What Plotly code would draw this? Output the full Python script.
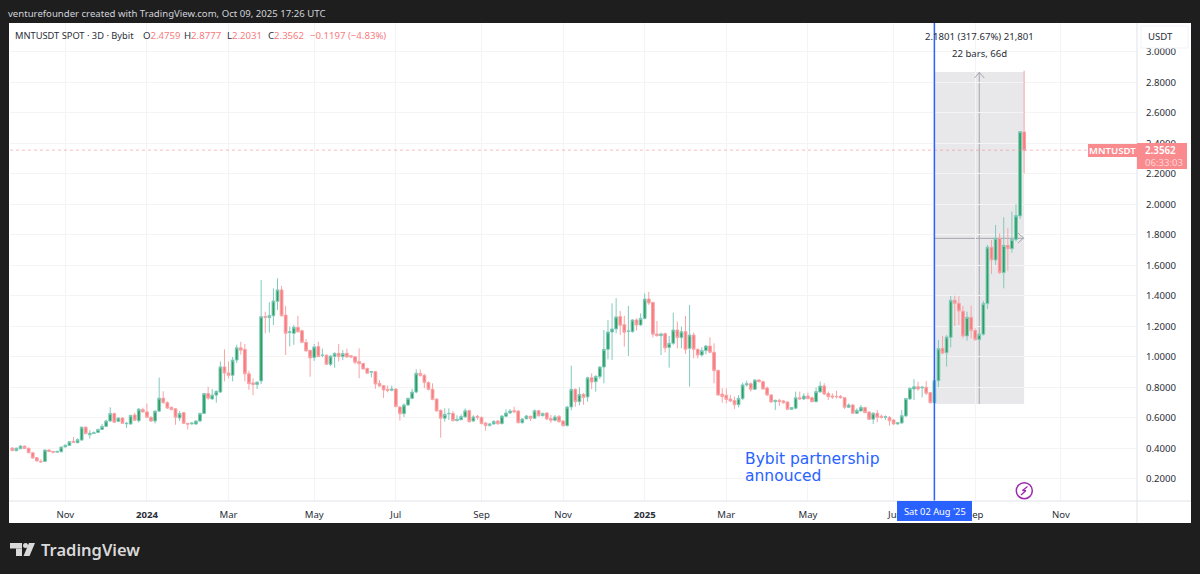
import pandas as pd
import plotly.graph_objects as go

# 3D bars, MNTUSDT spot
first_bar = "2023-09-24"

opens = [
    .403, .385, .398, .416, .402, .372, .340, .316, .315, .390,
    .381, .376, .378, .410, .420, .447, .437, .455, .540, .490,
    .498, .505, .525, .545, .580, .630, .578, .600, .562, .560,
    .620, .582, .655, .640, .605, .580, .645, .730, .700, .670,
    .660, .600, .635, .565, .562, .560, .580, .630, .760, .725,
    .750, .770, .935, .895, .880, .980, 1.06, 1.05, .890, .830,
    .820, .843, 1.265, 1.258, 1.27, 1.365, 1.44, 1.275, 1.16, 1.155,
    1.195, 1.172, 1.096, 1.044, .996, 1.068, 1.01, 1.012, .952, 1.004,
    1.024, 1.002, 1.024, 1.008, 1.002, .97, .958, .925, .90, .904,
    .827, .812, .788, .782, .79, .672, .628, .685, .729, .77,
    .893, .88, .832, .788, .724, .650, .598, .627, .63, .583,
    .589, .607, .648, .58, .611, .604, .567, .55, .561, .58,
    .563, .611, .633, .648, .646, .569, .595, .611, .598, .648,
    .615, .633, .596, .585, .609, .58, .55, .672, .788, .707,
    .755, .738, .864, .838, .871, .934, 1.05, 1.164, 1.184, 1.265,
    1.212, 1.168, 1.166, 1.243, 1.21, 1.253, 1.38, 1.358, 1.151, 1.14,
    1.153, 1.063, 1.09, 1.177, 1.127, 1.166, 1.057, 1.144, 1.05, 1.013,
    1.042, 1.072, 1.031, .912, .757, .749, .725, .714, .687, .727,
    .817, .825, .788, .849, .838, .797, .751, .707, .716, .712,
    .705, .657, .664, .733, .725, .744, .733, .707, .771, .81,
    .76, .744, .742, .742, .733, .67, .685, .631, .646, .668,
    .639, .592, .631, .612, .604, .604, .587, .561, .567, .613,
    .725, .79, .805, .797, .801, .766, .70, .845, 1.057, 1.028,
    1.129, 1.372, 1.352, 1.3, 1.138, 1.26, 1.173, 1.114, 1.149, 1.35,
    1.72, 1.636, 1.778, 1.553, 1.732, 1.71, 1.77, 1.925, 2.4759,
]
highs = [
    .408, .406, .424, .418, .404, .375, .340, .330, .392, .395,
    .383, .384, .412, .425, .447, .475, .468, .543, .545, .520,
    .512, .530, .560, .590, .670, .635, .605, .605, .575, .620,
    .635, .665, .667, .695, .610, .650, .865, .775, .710, .675,
    .665, .645, .640, .567, .570, .585, .635, .765, .805, .790,
    .780, .970, 1.05, .970, 1.0, 1.08, 1.10, 1.085, .910, .860,
    .840, 1.505, 1.297, 1.359, 1.45, 1.516, 1.466, 1.335, 1.2, 1.21,
    1.27, 1.18, 1.118, 1.046, 1.085, 1.10, 1.055, 1.017, 1.01, 1.03,
    1.085, 1.045, 1.055, 1.013, 1.006, 1.057, .961, .93, .908, .908,
    .849, .815, .814, .812, .795, .679, .696, .733, .792, .919,
    .919, .889, .84, .827, .729, .657, .663, .663, .646, .618,
    .624, .663, .655, .618, .62, .609, .572, .569, .585, .587,
    .618, .657, .659, .674, .65, .6, .62, .615, .655, .652,
    .635, .637, .62, .62, .62, .585, .679, .943, .794, .801,
    .764, .871, .893, .88, .941, 1.177, 1.242, 1.352, 1.385, 1.302,
    1.27, 1.335, 1.247, 1.253, 1.286, 1.417, 1.427, 1.36, 1.236, 1.16,
    1.16, 1.138, 1.29, 1.232, 1.199, 1.269, 1.341, 1.16, 1.057, 1.064,
    1.079, 1.129, 1.09, .917, .795, .795, .751, .74, .751, .832,
    .845, .834, .853, .855, .845, .806, .757, .72, .725, .718,
    .709, .672, .773, .773, .762, .766, .74, .801, .838, .828,
    .773, .762, .779, .751, .736, .696, .692, .663, .685, .674,
    .644, .637, .652, .622, .617, .613, .591, .574, .652, .731,
    .799, .854, .838, .808, .843, .77, .882, 1.112, 1.138, 1.144,
    1.40, 1.402, 1.398, 1.335, 1.297, 1.337, 1.188, 1.166, 1.367, 1.735,
    1.767, 1.866, 1.811, 1.916, 1.844, 1.953, 2.003, 2.482, 2.8777,
]
lows = [
    .383, .383, .396, .398, .370, .335, .316, .305, .313, .378,
    .368, .373, .376, .408, .418, .437, .435, .452, .495, .465,
    .495, .503, .522, .540, .575, .570, .572, .563, .535, .558,
    .580, .570, .635, .600, .575, .565, .640, .695, .660, .650,
    .555, .580, .562, .525, .555, .556, .575, .625, .720, .720,
    .700, .765, .840, .860, .840, .960, 1.015, .840, .785, .750,
    .790, .823, 1.155, 1.16, 1.21, 1.308, 1.265, 1.013, 1.07, 1.08,
    1.16, 1.09, 1.035, .871, .974, 1.0, .998, .948, .94, .93,
    .97, .98, .995, .996, .952, .86, .919, .889, .867, .792,
    .805, .731, .768, .775, .67, .583, .606, .681, .722, .762,
    .871, .795, .781, .716, .642, .471, .576, .587, .576, .578,
    .583, .602, .569, .576, .587, .558, .517, .545, .556, .554,
    .558, .604, .626, .631, .565, .563, .591, .58, .594, .609,
    .611, .587, .569, .578, .569, .543, .543, .65, .674, .683,
    .687, .707, .788, .773, .856, .827, .985, .98, 1.155, 1.144,
    1.068, 1.007, 1.159, 1.173, 1.205, 1.247, 1.341, 1.129, 1.133, 1.013,
    1.03, .93, 1.08, 1.057, 1.057, 1.02, .805, .991, .991, 1.002,
    1.017, 1.024, .827, .744, .70, .696, .705, .659, .67, .718,
    .806, .773, .784, .834, .786, .744, .70, .652, .679, .694,
    .652, .652, .657, .72, .718, .722, .703, .703, .766, .751,
    .718, .725, .727, .727, .659, .665, .626, .626, .641, .631,
    .587, .561, .572, .596, .587, .55, .554, .556, .563, .609,
    .718, .718, .779, .735, .751, .696, .692, .801, 1.02, .937,
    1.063, 1.203, 1.21, 1.122, 1.107, 1.122, 1.107, 1.109, 1.14, 1.315,
    1.544, 1.603, 1.544, 1.45, 1.566, 1.684, 1.757, 1.905, 2.2031,
]
closes = [
    .386, .402, .416, .400, .372, .337, .318, .313, .390, .380,
    .376, .381, .410, .422, .445, .440, .458, .540, .497, .500,
    .503, .525, .545, .580, .630, .572, .600, .565, .565, .617,
    .585, .658, .640, .605, .580, .645, .730, .700, .665, .655,
    .605, .630, .565, .560, .567, .580, .630, .760, .730, .750,
    .775, .935, .895, .880, .980, 1.06, 1.045, .890, .825, .820,
    .835, 1.265, 1.26, 1.272, 1.367, 1.44, 1.27, 1.155, 1.165, 1.195,
    1.165, 1.096, 1.04, .994, 1.066, 1.002, 1.012, .952, 1.006, 1.024,
    1.002, 1.022, 1.0, 1.0, .965, .956, .921, .893, .905, .823,
    .81, .784, .78, .79, .675, .628, .685, .729, .77, .893,
    .878, .832, .788, .722, .646, .598, .624, .63, .583, .591,
    .609, .648, .576, .607, .604, .563, .55, .561, .578, .563,
    .613, .633, .646, .641, .569, .593, .613, .598, .648, .615,
    .63, .594, .585, .607, .576, .55, .672, .788, .707, .755,
    .735, .864, .836, .873, .934, 1.05, 1.164, 1.184, 1.263, 1.208,
    1.162, 1.17, 1.243, 1.21, 1.253, 1.38, 1.354, 1.149, 1.14, 1.151,
    1.059, 1.09, 1.177, 1.127, 1.166, 1.05, 1.144, 1.05, 1.013, 1.042,
    1.072, 1.031, .91, .751, .74, .722, .711, .687, .729, .817,
    .825, .788, .849, .838, .79, .751, .705, .716, .707, .70,
    .657, .668, .733, .725, .744, .727, .707, .773, .81, .757,
    .74, .738, .74, .733, .67, .685, .631, .65, .67, .635,
    .591, .631, .604, .604, .608, .582, .561, .569, .615, .727,
    .795, .805, .79, .802, .762, .70, .845, 1.055, 1.026, 1.131,
    1.372, 1.352, 1.302, 1.138, 1.26, 1.173, 1.114, 1.149, 1.35, 1.72,
    1.636, 1.778, 1.553, 1.732, 1.71, 1.77, 1.927, 2.478, 2.3562,
]

tick_dates = ["2023-11-02", "2024-01-01", "2024-03-01", "2024-05-03", "2024-07-02", "2024-09-03", "2024-11-02",
              "2025-01-01", "2025-03-02", "2025-05-01", "2025-07-03", "2025-09-01", "2025-11-03"]
tick_labels = ["Nov", "<b>2024</b>", "Mar", "May", "Jul", "Sep", "Nov", "<b>2025</b>", "Mar", "May", "Jul", "Sep", "Nov"]
price_ticks = [.2, .4, .6, .8, 1.0, 1.2, 1.4, 1.6, 1.8, 2.0, 2.2, 2.4, 2.6, 2.8, 3.0]

event_date = "2025-08-02"
last_date = "2025-10-07"
measure_low = 0.692
measure_high = 2.868
measure_mid_date = "2025-09-04"
measure_mid_price = 1.778
last_price = 2.3562

DARK = "#1e1e1e"
BLUE = "#2962ff"
GRID = "#f4f4f5"
SEP = "#e0e3eb"
TEXT = "#2a2e39"
RED = "#f77c80"
GRAY = "#a3a6ad"
FONT = "Noto Sans"

dates = pd.date_range(first_bar, periods=len(opens), freq="3D")


# page pixels to paper coordinates (paper is the plot area, x 10-1137, y 23-501)
def px(x):
    return (x - 10) / 1127


def py(y):
    return (501 - y) / 478


def rect(x0, y0, x1, y1, fill, layer="above", line=None):
    return dict(type="rect", xref="paper", yref="paper", x0=px(x0), x1=px(x1), y0=py(y0), y1=py(y1),
                fillcolor=fill, layer=layer, line=dict(width=1 if line else 0, color=line or fill))


def stroke(x0, y0, x1, y1, color=GRAY, width=1):
    return dict(type="line", xref="paper", yref="paper", x0=px(x0), x1=px(x1), y0=py(y0), y1=py(y1),
                layer="above", line=dict(color=color, width=width))


def label(x, y, text, size=9.6, color=TEXT, anchor="left", family=FONT, **kw):
    return dict(xref="paper", yref="paper", x=px(x), y=py(y), text=text, showarrow=False,
                xanchor=anchor, yanchor="middle", borderpad=0, borderwidth=0,
                font=dict(family=family, size=size, color=color, **kw))


fig = go.Figure(go.Candlestick(
    x=dates, open=opens, high=highs, low=lows, close=closes,
    increasing=dict(line=dict(color="#7fcabc", width=1), fillcolor="#2e9f5e"),
    decreasing=dict(line=dict(color="#f9a3a6", width=1), fillcolor="#f77c80"),
    whiskerwidth=0, hoverinfo="skip",
))

shapes = [
    # white chart card on the dark page
    rect(9, 23, 1191, 523, "white", layer="below"),
    # measuring tool
    dict(type="rect", xref="x", yref="y", x0=event_date, x1=last_date, y0=measure_low, y1=measure_high,
         fillcolor="#e8e8ea", line=dict(width=0), layer="below"),
    dict(type="line", xref="x", yref="y", x0=measure_mid_date, x1=measure_mid_date, y0=measure_low, y1=measure_high,
         line=dict(color=GRAY, width=1), layer="below"),
    dict(type="line", xref="x", yref="y", x0=event_date, x1=last_date, y0=measure_mid_price, y1=measure_mid_price,
         line=dict(color=GRAY, width=1), layer="below"),
    # last price line
    dict(type="line", xref="paper", yref="y", x0=0, x1=1, y0=last_price, y1=last_price,
         line=dict(color=RED, width=1, dash="dot"), layer="above", opacity=0.5),
    # event line
    dict(type="line", xref="x", yref="paper", x0=event_date, x1=event_date, y0=0, y1=1,
         line=dict(color=BLUE, width=1.5), layer="above"),
    # arrow heads
    stroke(974.5, 78, 979.4, 72.5), stroke(984.3, 78, 979.4, 72.5),
    stroke(1018, 233, 1023.5, 238), stroke(1018, 243, 1023.5, 238),
    # axis separators
    stroke(1137, 23, 1137, 523, SEP), stroke(9, 501, 1191, 501, SEP),
    # price axis boxes
    rect(1141, 26, 1188, 48, "white", line="#f0f3fa"),
    rect(1088, 144, 1137, 157, "#f98a8e"),
    rect(1137, 143, 1187, 169, "#f98a8e"),
    # crosshair date box
    rect(897, 501, 972, 521, BLUE),
    # bolt marker
    dict(type="circle", xref="paper", yref="paper", x0=px(1016.3), x1=px(1032.3), y0=py(498.7), y1=py(482.7),
         line=dict(color="#9c27b0", width=1.5), layer="above"),
    stroke(1027.5, 486.5, 1022.5, 490.5, "#9c27b0", 1.3), stroke(1022.5, 490.5, 1026, 490.5, "#9c27b0", 1.3),
    stroke(1026, 490.5, 1021, 495, "#9c27b0", 1.3),
    # logo mark
    rect(10, 543, 22, 548.5, "#d9d9d9"), rect(16, 548.5, 22, 556, "#d9d9d9"),
    dict(type="circle", xref="paper", yref="paper", x0=px(23), x1=px(28), y0=py(548), y1=py(543),
         fillcolor="#d9d9d9", line=dict(width=0), layer="above"),
    dict(type="path", xref="paper", yref="paper", fillcolor="#d9d9d9", line=dict(width=0), layer="above",
         path=f"M {px(29)} {py(543)} L {px(35)} {py(543)} L {px(29.5)} {py(556)} L {px(23.5)} {py(556)} Z"),
]

annotations = [
    label(8, 13, "venturefounder created with TradingView.com, Oct 09, 2025 17:26 UTC", 9.6, "#d1d4dc"),
    label(15, 35.5, "MNTUSDT SPOT · 3D · Bybit", 9.3),
    label(143, 35.5, f'O<span style="color:{RED}">2.4759</span>', 9.6),
    label(184, 35.5, f'H<span style="color:{RED}">2.8777</span>', 9.6),
    label(227, 35.5, f'L<span style="color:{RED}">2.2031</span>', 9.6),
    label(268, 35.5, f'C<span style="color:{RED}">2.3562</span>', 9.6),
    label(310, 35.5, "−0.1197 (−4.83%)", 9.6, RED),
    label(979, 36.5, "2.1801 (317.67%) 21,801", 9.6, anchor="center"),
    label(979, 53.5, "22 bars, 66d", 9.6, anchor="center"),
    label(1148, 36, "USDT", 9.6),
    label(1112.5, 150.5, "MNTUSDT", 9.6, "white", anchor="center", weight=600),
    label(1145, 150, "2.3562", 9.8, "white", weight=600),
    label(1145, 162, "06:33:03", 9.6, "#fdd5d6"),
    label(934.5, 511.5, "Sat 02 Aug '25", 9.3, "white", anchor="center"),
    label(745, 459, "Bybit partnership", 15.5, BLUE, family="DejaVu Sans"),
    label(745, 475.5, "annouced", 15.5, BLUE, family="DejaVu Sans"),
    label(41, 549.5, "TradingView", 16.5, "#d9d9d9", weight=600),
]

fig.update_layout(
    width=1200, height=574, autosize=False,
    margin=dict(l=10, r=63, t=23, b=73, pad=0),
    paper_bgcolor=DARK, plot_bgcolor="white",
    showlegend=False, shapes=shapes, annotations=annotations,
    font=dict(family=FONT, size=9.6, color=TEXT),
    boxgap=0.05,
)
fig.update_xaxes(
    type="date", range=["2023-09-22 07:26", "2025-12-28 23:30"], rangeslider=dict(visible=False),
    tickmode="array", tickvals=tick_dates, ticktext=tick_labels, ticks="", tickangle=0,
    showgrid=True, gridcolor=GRID, gridwidth=1, zeroline=False, showline=False, ticklabelstandoff=6,
)
fig.update_yaxes(
    side="right", range=[0.0557, 3.190], tickmode="array", tickvals=price_ticks, tickformat=".4f", ticks="",
    showgrid=True, gridcolor=GRID, gridwidth=1, zeroline=False, showline=False, ticklabelstandoff=8,
)

fig.write_html("out.html", config=dict(displayModeBar=False), post_script="document.body.style.margin='0';")
